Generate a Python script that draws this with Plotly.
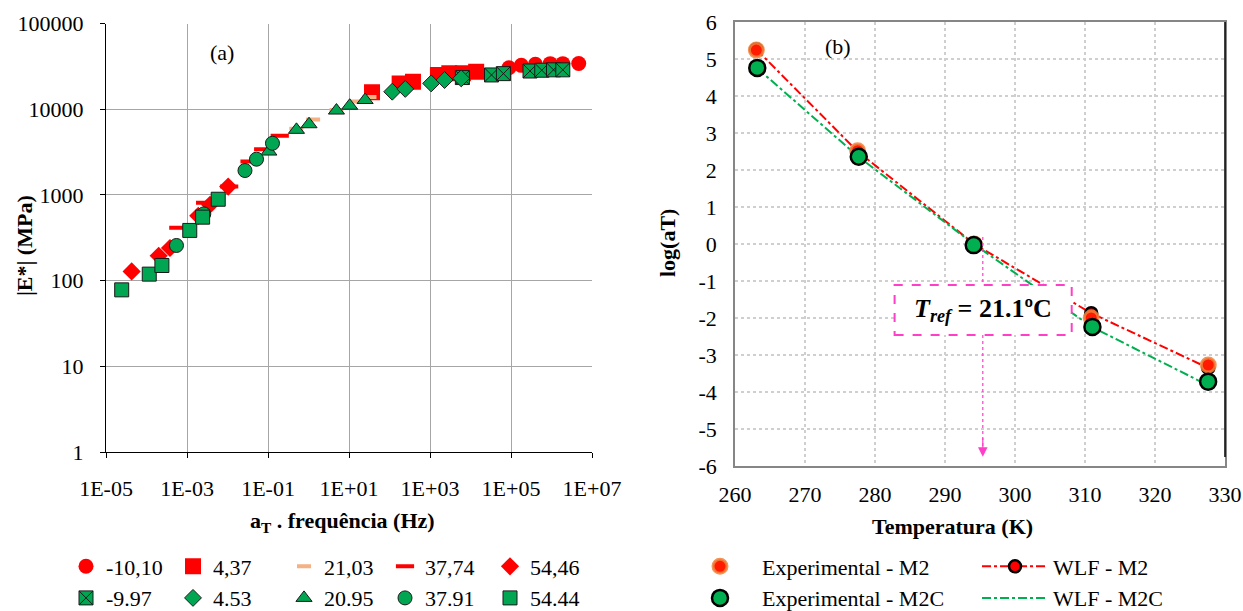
import plotly.graph_objects as go

# ---------------- Panel (a): |E*| master curve ----------------
f_m2_m1010 = [8.9e4, 1.8e5, 4.0e5, 9.3e5, 1.9e6, 4.7e6]
E_m2_m1010 = [30500, 32500, 33500, 34000, 34000, 34200]
f_m2_437 = [37, 178, 380, 1570, 3000, 6500, 13800]
E_m2_437 = [15800, 20000, 20900, 25100, 26300, 26300, 27400]
f_m2_2103 = [0.5, 1.3, 4.9, 15, 32]
E_m2_2103 = [5900, 7600, 9800, 12300, 13900]
f_m2_3774 = [6.1e-4, 2.8e-3, 1.1e-2, 3.5e-2, 7.6e-2, 0.195]
E_m2_3774 = [415, 810, 1250, 2450, 3420, 4900]
f_m2_5446 = [4.3e-5, 2.0e-4, 3.8e-4, 1.9e-3, 3.7e-3, 1.04e-2]
E_m2_5446 = [128, 195, 240, 570, 767, 1250]

f_m2c_m997 = [6300, 33000, 65000, 295000, 575000, 1.12e6, 1.9e6]
E_m2c_m997 = [23400, 25100, 26000, 27900, 28500, 28800, 28800]
f_m2c_453 = [117, 245, 1070, 2290, 5900]
E_m2c_453 = [16000, 17250, 20000, 21900, 22900]
f_m2c_2095 = [0.105, 0.505, 1.03, 4.9, 10.4, 25]
E_m2c_2095 = [3205, 5745, 6680, 9640, 10980, 12800]
f_m2c_3791 = [5.5e-4, 2.6e-3, 2.7e-2, 5.2e-2, 0.129]
E_m2c_3791 = [257, 600, 1925, 2610, 4000]
f_m2c_5444 = [2.44e-5, 1.17e-4, 2.40e-4, 1.17e-3, 2.43e-3, 5.9e-3]
E_m2c_5444 = [78, 119, 150, 385, 550, 890]

x_ticks_a = [1e-5, 1e-3, 1e-1, 1e1, 1e3, 1e5, 1e7]
x_ticktext_a = ["1E-05", "1E-03", "1E-01", "1E+01", "1E+03", "1E+05", "1E+07"]
y_ticks_a = [1, 10, 100, 1000, 10000, 100000]
y_ticktext_a = ["1", "10", "100", "1000", "10000", "100000"]

# ---------------- Panel (b): shift factors ----------------
T_m2 = [263.05, 277.52, 294.18, 310.89, 327.61]
logaT_exp_m2 = [5.24, 2.52, 0.0, -2.0, -3.27]
logaT_wlf_m2 = [5.26, 2.50, 0.0, -1.87, -3.35]
T_m2c = [263.18, 277.68, 294.10, 311.06, 327.59]
logaT_exp_m2c = [4.76, 2.36, -0.03, -2.24, -3.72]
logaT_wlf_m2c = [4.75, 2.35, 0.0, -2.25, -3.82]

x_ticks_b = [260, 270, 280, 290, 300, 310, 320, 330]
y_ticks_b = list(range(-6, 7))
y_ticktext_b = [str(v) for v in y_ticks_b]

FONT = "serif"
RED = "#FF0000"
GREEN = "#00A651"
SALMON = "#F4B183"

fig = go.Figure()

def add_a(x, y, name, legend, symbol, size, color, lcolor, lwidth):
    fig.add_trace(go.Scatter(
        x=x, y=y, mode="markers", name=name, legend=legend, legendgroup=name,
        marker=dict(symbol=symbol, size=size, color=color,
                    line=dict(color=lcolor, width=lwidth)),
        xaxis="x", yaxis="y"))

add_a(f_m2_m1010, E_m2_m1010, "-10,10", "legend", "circle", 15, RED, RED, 0)
add_a(f_m2_437, E_m2_437, "4,37", "legend2", "square", 16, RED, RED, 0)
add_a(f_m2_2103, E_m2_2103, "21,03", "legend3", "line-ew", 10, SALMON, SALMON, 4)
add_a(f_m2_3774, E_m2_3774, "37,74", "legend4", "line-ew", 13, RED, RED, 4)
add_a(f_m2_5446, E_m2_5446, "54,46", "legend5", "diamond", 14, RED, RED, 0)
add_a(f_m2c_m997, E_m2c_m997, "-9.97", "legend", "square-x", 14, GREEN, "#1a1a1a", 1)
add_a(f_m2c_453, E_m2c_453, "4.53", "legend2", "diamond", 13, GREEN, "#1a1a1a", 1)
add_a(f_m2c_2095, E_m2c_2095, "20.95", "legend3", "triangle-up", 14, GREEN, "#1a1a1a", 1)
add_a(f_m2c_3791, E_m2c_3791, "37.91", "legend4", "circle", 14, GREEN, "#1a1a1a", 1)
add_a(f_m2c_5444, E_m2c_5444, "54.44", "legend5", "square", 14, GREEN, "#1a1a1a", 1)

fig.add_trace(go.Scatter(
    x=T_m2, y=logaT_wlf_m2, mode="lines+markers", name="WLF - M2",
    legend="legend7", legendgroup="wlf2",
    line=dict(color=RED, width=2, dash="dashdot"),
    marker=dict(symbol="circle", size=12, color=RED, line=dict(color="black", width=2.5)),
    xaxis="x2", yaxis="y2"))
fig.add_trace(go.Scatter(
    x=T_m2c, y=logaT_wlf_m2c, mode="lines", name="WLF - M2C",
    legend="legend7", legendgroup="wlf2c",
    line=dict(color="#00B050", width=2, dash="dashdot"),
    xaxis="x2", yaxis="y2"))
fig.add_trace(go.Scatter(
    x=T_m2, y=logaT_exp_m2, mode="markers", name="Experimental - M2",
    legend="legend6", legendgroup="exp2",
    marker=dict(symbol="circle", size=14, color="#FF1A00",
                line=dict(color="rgba(240,130,60,0.85)", width=3)),
    xaxis="x2", yaxis="y2"))
fig.add_trace(go.Scatter(
    x=T_m2c, y=logaT_exp_m2c, mode="markers", name="Experimental - M2C",
    legend="legend6", legendgroup="exp2c",
    marker=dict(symbol="circle", size=16, color="#00B050",
                line=dict(color="black", width=2.5)),
    xaxis="x2", yaxis="y2"))

W, H = 1243, 611


def px(x):
    return x / W


def py(y):
    return 1 - y / H


tickfont = dict(family=FONT, size=22, color="black")
legfont = dict(family=FONT, size=22, color="black")

layout = dict(
    width=W, height=H,
    margin=dict(l=0, r=0, t=0, b=0, autoexpand=False),
    paper_bgcolor="white", plot_bgcolor="white",
    font=dict(family=FONT, size=22, color="black"),
    xaxis=dict(type="log", range=[-5, 7], domain=[px(106), px(592)],
               tickvals=x_ticks_a, ticktext=x_ticktext_a, tickfont=tickfont,
               showgrid=True, gridcolor="#A6A6A6", gridwidth=1,
               showline=True, linecolor="black", linewidth=1,
               ticks="outside", ticklen=5, tickcolor="black",
               ticklabelstandoff=12, zeroline=False, anchor="y"),
    yaxis=dict(type="log", range=[0, 5], domain=[py(452), py(23.5)],
               tickvals=y_ticks_a, ticktext=y_ticktext_a, tickfont=tickfont,
               showgrid=True, gridcolor="#A6A6A6", gridwidth=1,
               showline=True, linecolor="black", linewidth=1,
               ticks="outside", ticklen=5, tickcolor="black",
               ticklabelstandoff=12, zeroline=False, anchor="x"),
    xaxis2=dict(range=[260, 330], domain=[px(735), px(1225)],
                tickvals=x_ticks_b, tickfont=tickfont,
                showgrid=True, gridcolor="#CFCFCF", gridwidth=1.5, griddash="dot",
                showline=True, linecolor="#868686", linewidth=1.5, mirror=True,
                ticks="", ticklabelstandoff=8, zeroline=False, anchor="y2"),
    yaxis2=dict(range=[-6, 6], domain=[py(466), py(22)],
                tickvals=y_ticks_b, ticktext=y_ticktext_b, tickfont=tickfont,
                showgrid=True, gridcolor="#CFCFCF", gridwidth=1.5, griddash="dot",
                showline=True, linecolor="#868686", linewidth=1.5, mirror=True,
                ticks="", ticklabelstandoff=12, zeroline=False, anchor="x2"),
)

leg_top = py(545.5)
leg_cols = [66, 173, 284, 385, 490]
for i, xl in enumerate(leg_cols):
    key = "legend" if i == 0 else f"legend{i+1}"
    layout[key] = dict(x=px(xl), y=leg_top, xanchor="left", yanchor="top",
                       orientation="v", font=legfont, bgcolor="rgba(0,0,0,0)",
                       tracegroupgap=0, itemsizing="trace")
layout["legend6"] = dict(x=px(678), y=leg_top, xanchor="left", yanchor="top",
                         orientation="v", font=legfont, bgcolor="rgba(0,0,0,0)",
                         tracegroupgap=0, itemwidth=74)
layout["legend7"] = dict(x=px(977), y=leg_top, xanchor="left", yanchor="top",
                         orientation="v", font=legfont, bgcolor="rgba(0,0,0,0)",
                         tracegroupgap=0, itemwidth=66)
fig.update_layout(**layout)

PINK = "#FF3FC8"
shapes = [
    dict(type="line", xref="x2", yref="y2", x0=295.4, x1=295.4, y0=0.19, y1=-1.11,
         line=dict(color=PINK, width=1.2, dash="dot"), layer="above"),
    dict(type="line", xref="x2", yref="y2", x0=295.4, x1=295.4, y0=-2.46, y1=-5.5,
         line=dict(color=PINK, width=1.2, dash="dot"), layer="above"),
    dict(type="rect", xref="x2", yref="y2", x0=282.8, x1=308.1, y0=-2.46, y1=-1.11,
         line=dict(color=PINK, width=2, dash="dash"), fillcolor="white", layer="above"),
    dict(type="line", xref="x2 domain", yref="y2 domain", x0=1, x1=1, y0=0.02, y1=1,
         line=dict(color="black", width=1.5)),
]
fig.update_layout(shapes=shapes)


def lab(x, y, text, size=22, angle=0):
    return dict(x=px(x), y=py(y), xref="paper", yref="paper", text=text,
                showarrow=False, xanchor="center", yanchor="middle",
                textangle=angle, font=dict(family=FONT, size=size, color="black"))


ann = [
    lab(222, 52, "(a)"),
    lab(838, 47, "(b)"),
    lab(25, 246, "<b>|E*| (MPa)</b>", angle=-90),
    lab(342, 522, "<b>a<sub>T</sub> . frequência (Hz)</b>"),
    lab(668, 243, "<b>log(aT)</b>", angle=-90),
    lab(952, 526, "<b>Temperatura (K)</b>"),
    dict(x=295.4, y=-1.78, xref="x2", yref="y2", xanchor="center", yanchor="middle",
         text="<b><i>T<sub>ref</sub></i> = 21.1ºC</b>", showarrow=False,
         font=dict(family=FONT, size=26, color="black")),
    dict(x=295.4, y=-5.75, xref="x2", yref="y2", ax=295.4, ay=-5.2, axref="x2", ayref="y2",
         text="", showarrow=True, arrowhead=2, arrowsize=1.6, arrowwidth=1.2,
         arrowcolor=PINK),
]
fig.update_layout(annotations=ann)

# remove the default 8px page margin so the figure fills the window exactly
fig.write_html("out.html",
               config={"displayModeBar": False},
               post_script="document.body.style.margin='0px';"
                           "document.body.style.overflow='hidden';")
